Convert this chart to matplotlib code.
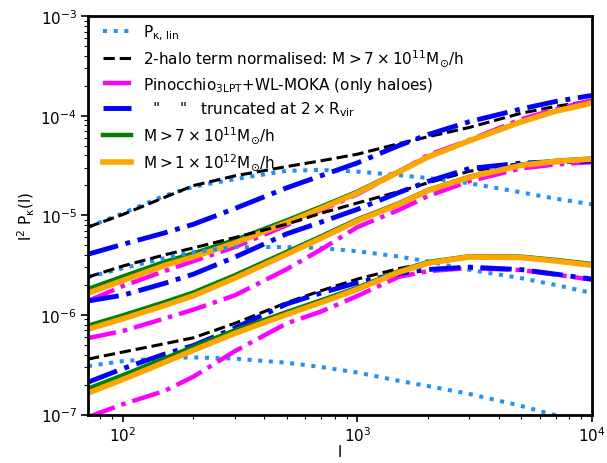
import matplotlib
matplotlib.use("Agg")
import matplotlib.pyplot as plt

plt.rcParams['mathtext.default'] = 'regular'
plt.rcParams['font.family'] = ['DejaVu Sans']

ell = [71, 100, 150, 200, 300, 500, 700, 1000, 1500, 2000, 3000, 5000, 7000, 10000]

# Group A (highest amplitude)
A_lin = [7.62e-6, 1.05e-5, 1.57e-5, 1.94e-5, 2.31e-5, 2.80e-5, 2.86e-5, 2.75e-5, 2.53e-5, 2.37e-5, 2.10e-5, 1.70e-5, 1.47e-5, 1.29e-5]
A_2h = [7.62e-6, 1.02e-5, 1.51e-5, 1.99e-5, 2.49e-5, 3.09e-5, 3.53e-5, 4.11e-5, 5.24e-5, 6.15e-5, 7.63e-5, 1.06e-4, 1.24e-4, 1.42e-4]
A_pino = [1.38e-6, 1.95e-6, 2.75e-6, 3.47e-6, 4.80e-6, 7.97e-6, 1.13e-5, 1.63e-5, 2.72e-5, 4.02e-5, 5.69e-5, 9.25e-5, 1.16e-4, 1.43e-4]
A_trunc = [4.07e-6, 5.12e-6, 6.65e-6, 8.14e-6, 1.17e-5, 1.89e-5, 2.50e-5, 3.36e-5, 5.01e-5, 6.47e-5, 8.71e-5, 1.17e-4, 1.39e-4, 1.60e-4]
A_m7 = [1.82e-6, 2.43e-6, 3.40e-6, 4.15e-6, 5.65e-6, 8.9e-6, 1.22e-5, 1.73e-5, 2.76e-5, 3.88e-5, 5.62e-5, 8.7e-5, 1.11e-4, 1.35e-4]
A_m1 = [1.66e-6, 2.22e-6, 3.13e-6, 3.83e-6, 5.26e-6, 8.43e-6, 1.17e-5, 1.68e-5, 2.72e-5, 3.85e-5, 5.6e-5, 8.69e-5, 1.11e-4, 1.34e-4]

# Group B
B_lin = [2.40e-6, 2.94e-6, 3.70e-6, 4.27e-6, 4.80e-6, 4.80e-6, 4.69e-6, 4.36e-6, 3.86e-6, 3.44e-6, 2.84e-6, 2.34e-6, 2.00e-6, 1.66e-6]
B_2h = [2.40e-6, 3.10e-6, 4.00e-6, 4.71e-6, 5.98e-6, 8.16e-6, 1.05e-5, 1.33e-5, 1.73e-5, 2.12e-5, 2.77e-5, 3.32e-5, 3.52e-5, 3.67e-5]
B_pino = [5.85e-7, 6.91e-7, 9.18e-7, 1.13e-6, 1.57e-6, 2.88e-6, 4.54e-6, 7.62e-6, 1.13e-5, 1.56e-5, 2.20e-5, 2.96e-5, 3.24e-5, 3.42e-5]
B_trunc = [1.38e-6, 1.58e-6, 2.07e-6, 2.57e-6, 3.80e-6, 6.52e-6, 8.55e-6, 1.15e-5, 1.69e-5, 2.19e-5, 2.95e-5, 3.35e-5, 3.45e-5, 3.50e-5]
B_m7 = [7.8e-7, 9.9e-7, 1.34e-6, 1.68e-6, 2.5e-6, 4.3e-6, 6.15e-6, 9.1e-6, 1.32e-5, 1.80e-5, 2.44e-5, 3.22e-5, 3.53e-5, 3.72e-5]
B_m1 = [7.20e-7, 9.16e-7, 1.24e-6, 1.56e-6, 2.34e-6, 4.07e-6, 5.89e-6, 8.83e-6, 1.29e-5, 1.77e-5, 2.41e-5, 3.18e-5, 3.48e-5, 3.67e-5]

# Group C (lowest amplitude)
C_lin = [3.06e-7, 3.44e-7, 3.69e-7, 3.75e-7, 3.64e-7, 3.31e-7, 3.00e-7, 2.64e-7, 2.18e-7, 1.93e-7, 1.61e-7, 1.22e-7, 9.82e-8, 7.47e-8]
C_2h = [3.60e-7, 4.24e-7, 5.13e-7, 5.90e-7, 8.22e-7, 1.33e-6, 1.75e-6, 2.29e-6, 2.92e-6, 3.33e-6, 3.76e-6, 3.73e-6, 3.45e-6, 3.12e-6]
C_pino = [9.42e-8, 1.27e-7, 1.72e-7, 2.40e-7, 4.32e-7, 8.24e-7, 1.08e-6, 1.55e-6, 2.41e-6, 2.75e-6, 2.96e-6, 2.82e-6, 2.54e-6, 2.26e-6]
C_trunc = [2.11e-7, 2.89e-7, 4.03e-7, 4.93e-7, 7.38e-7, 1.29e-6, 1.66e-6, 2.11e-6, 2.60e-6, 2.86e-6, 3.02e-6, 2.85e-6, 2.57e-6, 2.29e-6]
C_m7 = [1.82e-7, 2.48e-7, 3.64e-7, 4.8e-7, 7.0e-7, 1.07e-6, 1.40e-6, 1.88e-6, 2.75e-6, 3.40e-6, 3.88e-6, 3.85e-6, 3.57e-6, 3.25e-6]
C_m1 = [1.64e-7, 2.25e-7, 3.33e-7, 4.42e-7, 6.53e-7, 1.01e-6, 1.33e-6, 1.81e-6, 2.68e-6, 3.31e-6, 3.82e-6, 3.77e-6, 3.48e-6, 3.16e-6]

labels = [r'P$_{\kappa,\,\rm lin}$',
          r'2-halo term normalised: M$>7\times10^{11}$M$_{\odot}$/h',
          r'Pinocchio$_{\rm 3LPT}$+WL-MOKA (only haloes)',
          r'  "    "   truncated at $2\times$R$_{\rm vir}$',
          r'M$>7\times10^{11}$M$_{\odot}$/h',
          r'M$>1\times10^{12}$M$_{\odot}$/h']

fig = plt.figure(figsize=(6.07, 4.64), dpi=100)
ax = fig.add_axes([0.145, 0.1045, 0.830, 0.8585])

groups = [(A_lin, A_2h, A_pino, A_trunc, A_m7, A_m1),
          (B_lin, B_2h, B_pino, B_trunc, B_m7, B_m1),
          (C_lin, C_2h, C_pino, C_trunc, C_m7, C_m1)]

for i, (lin, h2, pino, tr, m7, m1) in enumerate(groups):
    lab = (lambda k: labels[k]) if i == 0 else (lambda k: None)
    ax.plot(ell, lin, ':', color='dodgerblue', lw=2.9, label=lab(0))
    ax.plot(ell, h2, '--', color='black', lw=2.2, label=lab(1))
    ax.plot(ell, pino, '-.', color='magenta', lw=3.2, label=lab(2))
    ax.plot(ell, tr, '-.', color='blue', lw=3.5, label=lab(3))
    ax.plot(ell, m7, '-', color='green', lw=3.2, label=lab(4))
    ax.plot(ell, m1, '-', color='orange', lw=4.0, label=lab(5))

ax.set_xscale('log')
ax.set_yscale('log')
ax.set_xlim(71, 1e4)
ax.set_ylim(1e-7, 1e-3)
ax.set_xlabel('l', fontsize=11, labelpad=0)
ax.set_ylabel(r'l$^2$ P$_{\kappa}$(l)', fontsize=11, labelpad=2)
ax.tick_params(axis='both', which='major', labelsize=11, length=5, width=1.2, pad=3)
ax.tick_params(axis='both', which='minor', length=3, width=0.8)
for s in ax.spines.values():
    s.set_linewidth(2)

ax.legend(loc='upper left', bbox_to_anchor=(0.018, 1.0), frameon=False, fontsize=11,
          handlelength=1.8, handletextpad=0.8, labelspacing=0.4, borderaxespad=0)

fig.savefig('out.png', dpi=100)
